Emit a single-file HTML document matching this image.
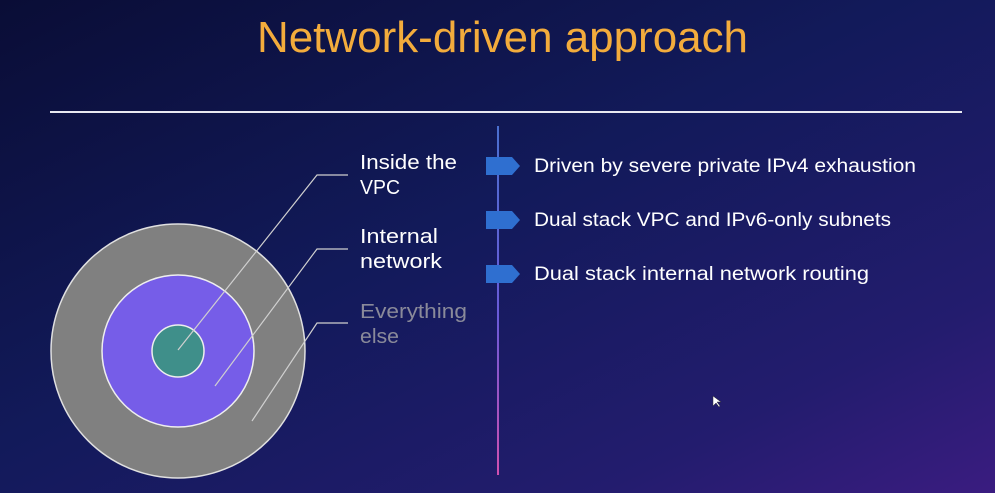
<!DOCTYPE html>
<html><head><meta charset="utf-8">
<style>
html,body{margin:0;padding:0;width:995px;height:493px;overflow:hidden;}
body{background:#0c1040;}
svg{display:block;font-family:"Liberation Sans",sans-serif;}
</style></head>
<body>
<svg width="995" height="493" viewBox="0 0 995 493" xmlns="http://www.w3.org/2000/svg">
<defs>
<linearGradient id="bg" x1="0" y1="0" x2="1" y2="1">
<stop offset="0" stop-color="#0a0d36"/>
<stop offset="0.45" stop-color="#121a5a"/>
<stop offset="0.8" stop-color="#231c6e"/>
<stop offset="1" stop-color="#3a1c80"/>
</linearGradient>
<linearGradient id="vl" x1="0" y1="0" x2="0" y2="1">
<stop offset="0" stop-color="#4a6fd0"/>
<stop offset="0.55" stop-color="#6a5ad8"/>
<stop offset="1" stop-color="#d050b0"/>
</linearGradient>
</defs>
<rect width="995" height="493" fill="url(#bg)"/>
<text x="257" y="52" font-size="44" fill="#f3ac3c" textLength="491" lengthAdjust="spacingAndGlyphs">Network-driven approach</text>
<line x1="50" y1="112" x2="962" y2="112" stroke="#e8e8f0" stroke-width="2"/>

<circle cx="178" cy="351" r="127" fill="#808080" stroke="#e0e0e0" stroke-width="1.5"/>
<circle cx="178" cy="351" r="76" fill="#765de8" stroke="#eeeeee" stroke-width="1.5"/>
<circle cx="178" cy="351" r="26" fill="#3f8f8a" stroke="#eeeeee" stroke-width="1.5"/>
<g stroke="#d0d0d0" stroke-width="1.2" fill="none">
<polyline points="178,350 317,175 348,175"/>
<polyline points="215,386 317,249 348,249"/>
<polyline points="252,421 317,323 348,323"/>
</g>
<g font-size="20" fill="#ffffff" lengthAdjust="spacingAndGlyphs">
<text x="360" y="169" textLength="97" lengthAdjust="spacingAndGlyphs">Inside the</text>
<text x="360" y="194" textLength="40" lengthAdjust="spacingAndGlyphs">VPC</text>
<text x="360" y="243" textLength="78" lengthAdjust="spacingAndGlyphs">Internal</text>
<text x="360" y="268" textLength="82" lengthAdjust="spacingAndGlyphs">network</text>
<text x="360" y="318" fill="#8a8a9a" textLength="107" lengthAdjust="spacingAndGlyphs">Everything</text>
<text x="360" y="343" fill="#8a8a9a" textLength="39" lengthAdjust="spacingAndGlyphs">else</text>
</g>

<rect x="497" y="126" width="2" height="349" fill="url(#vl)"/>
<g fill="#2f6fd0">
<polygon points="486,157 512,157 520,166 512,175 486,175"/>
<polygon points="486,211 512,211 520,220 512,229 486,229"/>
<polygon points="486,265 512,265 520,274 512,283 486,283"/>
</g>
<g font-size="19" fill="#ffffff">
<text x="534" y="172" textLength="382" lengthAdjust="spacingAndGlyphs">Driven by severe private IPv4 exhaustion</text>
<text x="534" y="226" textLength="357" lengthAdjust="spacingAndGlyphs">Dual stack VPC and IPv6-only subnets</text>
<text x="534" y="280" textLength="335" lengthAdjust="spacingAndGlyphs">Dual stack internal network routing</text>
</g>
<polygon points="713,396 713,406 716,403 719,407 720,406 717,402 721,402" fill="#fff" stroke="#333" stroke-width="0.5"/>
</svg>
</body></html>
